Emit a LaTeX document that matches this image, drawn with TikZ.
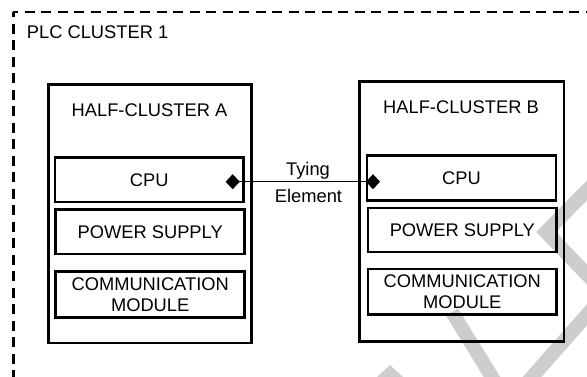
\documentclass[tikz,border=0pt]{standalone}
\usepackage{fontspec}
\setmainfont{Liberation Sans}
\usetikzlibrary{arrows.meta}
\definecolor{wm}{RGB}{205,205,205}
\begin{document}
\begin{tikzpicture}[x=1pt,y=-1pt,
  box/.style={draw, line width=2.7pt, inner sep=0pt, align=center, font=\fontsize{18.3}{20.7}\selectfont},
  lbl/.style={inner sep=0pt, anchor=base, font=\fontsize{18.3}{20.7}\selectfont},
  wmark/.style={draw=wm, line width=14pt},
  frame/.style={line width=2.7pt, dash pattern=on 10pt off 6.5pt, dash phase=5pt},
  tie/.style={line width=1pt, {Diamond[length=14pt,width=15pt]}-{Diamond[length=14pt,width=15pt]}}
]
\useasboundingbox (0,0) rectangle (587,376);
\begin{scope}
\clip (0,0) rectangle (587,376);
% watermark fragments
\draw[wmark, line join=miter] (600,177) -- (546,232) -- (600,288);
\draw[wmark] (600,300) -- (525,385);
\draw[wmark] (452,312) -- (500,390);
\fill[wm] (377,377) -- (390,365) -- (403,377) -- cycle;
% dashed cluster frame
\coordinate (corner) at (13.3,12);
\coordinate (fbot) at (13.3,390);
\coordinate (fright) at (600,12);
\draw[frame] (corner) -- (fbot);
\draw[frame] (corner) -- (fright);
\end{scope}
\node[lbl, anchor=base west] (plc) at (26.7,38.3) {PLC CLUSTER 1};

% half-cluster A
\node[box, minimum width=203pt, minimum height=258.8pt] (hcA) at (149.8,213.6) {};
\node[lbl] (tA) at (149.5,116.7) {HALF-CLUSTER A};
\node[box, minimum width=188.7pt, minimum height=44.3pt] (cpuA) at (149.3,179.8) {CPU};
\node[box, minimum width=189pt, minimum height=44.3pt] (psA) at (150.2,231.8) {POWER SUPPLY};
\node[box, minimum width=189pt, minimum height=46.4pt] (cmA) at (150.2,294.5) {COMMUNICATION\\MODULE};

% half-cluster B
\node[box, minimum width=204.3pt, minimum height=260.4pt] (hcB) at (461.8,211.5) {};
\node[lbl] (tB) at (461,113.3) {HALF-CLUSTER B};
\node[box, minimum width=189pt, minimum height=45.4pt] (cpuB) at (461.5,178) {CPU};
\node[box, minimum width=188.7pt, minimum height=44pt] (psB) at (462.3,230) {POWER SUPPLY};
\node[box, minimum width=188.7pt, minimum height=45.7pt] (cmB) at (462.3,291.8) {COMMUNICATION\\MODULE};

% tying element
\coordinate (eA) at (225.7,181.7);
\coordinate (eB) at (380,181.7);
\draw[tie] (eA) -- (eB);
\node[lbl] (ty) at (308,175) {Tying};
\node[lbl] (el) at (308.5,202.3) {Element};
\end{tikzpicture}
\end{document}
